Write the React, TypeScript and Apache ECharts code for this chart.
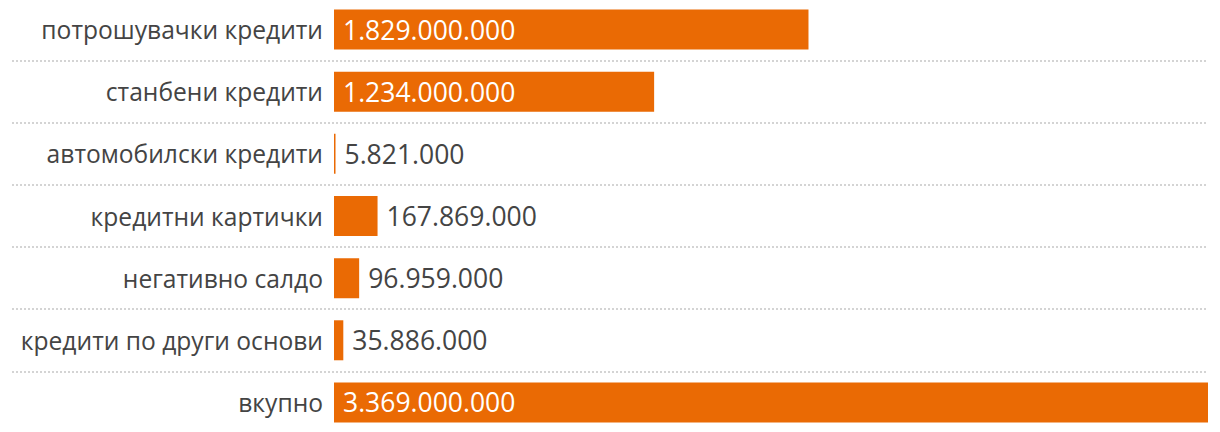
import React, { useEffect, useRef } from "react";
import * as echarts from "echarts";

const categories = [
  "потрошувачки кредити",
  "станбени кредити",
  "автомобилски кредити",
  "кредитни картички",
  "негативно салдо",
  "кредити по други основи",
  "вкупно",
];
const values = [1829000000, 1234000000, 5821000, 167869000, 96959000, 35886000, 3369000000];

const fmt = (v: number) => String(Math.round(v)).replace(/\B(?=(\d{3})+(?!\d))/g, ".");

export default function App() {
  const ref = useRef<HTMLDivElement>(null);
  useEffect(() => {
    if (!ref.current) return;
    const chart = echarts.init(ref.current, undefined, { renderer: "svg" });
    const maxV = Math.max(...values);
    const font = "'Open Sans', sans-serif";
    chart.setOption({
      animation: false,
      grid: [
        { left: 334, right: 12, top: -1.5, bottom: -1.5, outerBoundsMode: "none" },
        { left: 12, right: 12, top: -1.5, bottom: -1.5, outerBoundsMode: "none" },
      ],
      xAxis: [
        { type: "value", gridIndex: 0, min: 0, max: maxV, show: false },
        { type: "value", gridIndex: 1, min: 0, max: 1, show: false },
      ],
      yAxis: [
        {
          type: "category",
          gridIndex: 0,
          data: categories,
          inverse: true,
          axisLine: { show: false },
          axisTick: { show: false },
          splitLine: { show: false },
          axisLabel: { color: "#444", fontSize: 24.6, fontFamily: font, margin: 11 },
          z: 5,
        },
        {
          type: "category",
          gridIndex: 1,
          data: categories,
          inverse: true,
          axisLine: { show: false },
          axisTick: { show: false },
          axisLabel: { show: false },
          splitLine: {
            show: true,
            lineStyle: { color: "#d4d4d4", width: 2, type: [2, 2] },
          },
          z: 1,
        },
      ],
      series: [
        {
          type: "bar",
          xAxisIndex: 0,
          yAxisIndex: 0,
          barWidth: 40,
          z: 3,
          itemStyle: { color: "#EA6A04" },
          data: values.map((v) => {
            const inside = v / maxV > 0.2;
            return {
              value: v,
              label: inside
                ? { show: true, position: "insideLeft", distance: 9, color: "#fff" }
                : { show: true, position: "right", distance: 9, color: "#444" },
            };
          }),
          label: {
            show: true,
            fontSize: 26.5,
            fontFamily: font,
            formatter: (p: any) => fmt(p.value),
          },
        },
      ],
    });
    return () => chart.dispose();
  }, []);
  return (
    <div
      ref={ref}
      style={{ position: "absolute", left: 0, top: 0, width: 1220, height: 432 }}
    />
  );
}
